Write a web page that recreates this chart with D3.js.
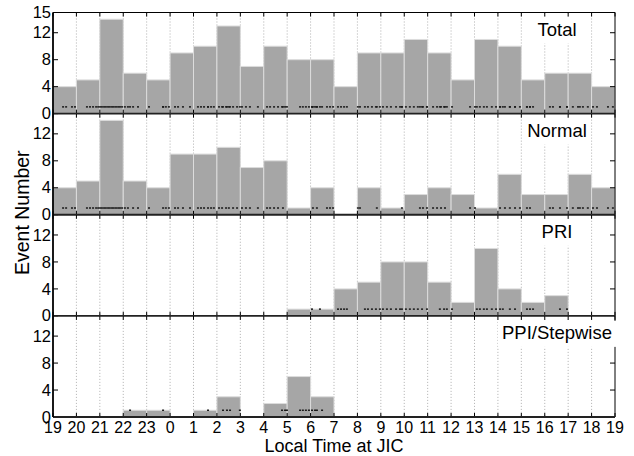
<!DOCTYPE html>
<html><head><meta charset="utf-8">
<script src="https://cdn.jsdelivr.net/npm/d3@7"></script>
<style>body{margin:0;background:#fff}svg{display:block}text{font-family:"Liberation Sans",Arial,Helvetica,sans-serif}</style>
</head><body>
<script>
// Hour labels (local time at JIC), bin edges 19:00 .. 19:00
const hourLabels = [19,20,21,22,23,0,1,2,3,4,5,6,7,8,9,10,11,12,13,14,15,16,17,18,19];
const panelNames = ["Total","Normal","PRI","PPI/Stepwise"];
// counts per hourly bin (bins 19-20 ... 18-19)
const totalCounts  = [4,5,14,6,5,9,10,13,7,10,8,8,4,9,9,11,9,5,11,10,5,6,6,4];
const normalCounts = [4,5,14,5,4,9,9,10,7,8,1,4,0,4,1,3,4,3,1,6,3,3,6,4];
const priCounts    = [0,0,0,0,0,0,0,0,0,0,1,1,4,5,8,8,5,2,10,4,2,3,0,0];
const ppiCounts    = [0,0,0,1,1,0,1,3,0,2,6,3,0,0,0,0,0,0,0,0,0,0,0,0];
// individual event times (hours since 19:00), marked at y = 1
const normalEvents = [0.43,0.56,0.81,0.94,1.45,1.58,1.71,1.84,1.93,2.01,2.09,2.18,2.26,2.35,2.43,2.52,2.60,2.69,2.78,2.86,2.95,
  3.07,3.20,3.42,3.63,4.10,4.70,4.82,4.95,5.21,5.34,5.55,5.85,6.19,6.32,6.45,6.62,6.75,6.87,7.09,7.22,7.39,7.51,7.69,7.86,
  8.07,8.24,8.41,8.75,9.14,9.27,9.44,9.61,9.82,11.10,11.27,11.70,11.83,11.96,13.02,13.11,13.83,14.90,15.67,15.80,15.97,
  16.23,16.40,16.57,16.74,17.81,18.02,19.09,19.30,19.51,19.73,19.94,20.24,20.37,21.22,21.35,21.65,21.95,22.20,22.42,22.50,
  22.63,22.84,23.06,23.23,23.70,23.91];
const priEvents = [11.06,11.40,12.17,12.30,12.43,12.55,13.32,13.45,13.62,13.79,13.96,14.09,14.26,14.43,14.65,14.82,14.90,15.07,
  15.24,15.41,15.58,15.76,15.97,16.52,16.70,16.82,17.04,18.10,18.23,18.40,18.53,18.74,18.92,19.09,19.21,19.51,19.73,20.24,20.37,
  20.50,21.65,21.95];
const ppiEvents = [3.29,4.70,6.62,7.26,7.43,7.56,7.98,9.78,9.91,9.99,10.55,10.67,10.80,10.93,11.06,11.19,11.27,11.49];
const totalEvents = normalEvents.concat(priEvents, ppiEvents);
const yTicks = [0,4,8,12];
const yTicksTop = [0,4,8,12,15];

const panels = [
  {name: panelNames[0], counts: totalCounts, events: totalEvents},
  {name: panelNames[1], counts: normalCounts, events: normalEvents},
  {name: panelNames[2], counts: priCounts, events: priEvents},
  {name: panelNames[3], counts: ppiCounts, events: ppiEvents}
];

const W = 634, H = 456;
const mL = 53, mR = 615, mT = 12.5, mB = 417;
const ph = (mB - mT) / panels.length;
const svg = d3.select("body").append("svg").attr("width", W).attr("height", H);
const x = d3.scaleLinear().domain([0, 24]).range([mL, mR]);
const hours = d3.range(25);

panels.forEach((p, i) => {
  const y0 = mT + i * ph, y1 = y0 + ph;
  const y = d3.scaleLinear().domain([0, 15]).range([y1, y0]);
  const g = svg.append("g");
  // grid
  g.selectAll("line.grid").data(hours.slice(1, 24)).join("line")
    .attr("x1", d => x(d)).attr("x2", d => x(d)).attr("y1", y0).attr("y2", y1)
    .attr("stroke", "#9a9a9a").attr("stroke-width", 0.8).attr("stroke-dasharray", "1,2");
  // bars
  g.selectAll("rect.bar").data(p.counts.map((c, k) => ({k, c})).filter(d => d.c > 0)).join("rect")
    .attr("x", d => x(d.k)).attr("width", d => x(d.k + 1) - x(d.k))
    .attr("y", d => y(d.c)).attr("height", d => y(0) - y(d.c))
    .attr("fill", "#a6a6a6").attr("stroke", "#dcdcdc").attr("stroke-width", 1);
  // event markers
  g.selectAll("rect.ev").data(p.events).join("rect")
    .attr("x", d => x(d) - 1).attr("y", y(1) - 0.75).attr("width", 2).attr("height", 1.5)
    .attr("fill", "#1a1a1a");
  // x ticks top & bottom
  g.selectAll("line.xtb").data(hours).join("line")
    .attr("x1", d => x(d)).attr("x2", d => x(d)).attr("y1", y1).attr("y2", y1 - 4)
    .attr("stroke", "#000").attr("stroke-width", 1);
  g.selectAll("line.xtt").data(hours).join("line")
    .attr("x1", d => x(d)).attr("x2", d => x(d)).attr("y1", y0).attr("y2", y0 + 4)
    .attr("stroke", "#000").attr("stroke-width", 1);
  // y ticks
  const yt = i === 0 ? yTicksTop : yTicks;
  g.selectAll("line.ytl").data(yt).join("line")
    .attr("x1", mL).attr("x2", mL + 5).attr("y1", d => y(d)).attr("y2", d => y(d))
    .attr("stroke", "#000");
  g.selectAll("line.ytr").data(yTicks.slice(1)).join("line")
    .attr("x1", mR).attr("x2", mR - 5).attr("y1", d => y(d)).attr("y2", d => y(d))
    .attr("stroke", "#000");
  g.selectAll("text.yl").data(yt).join("text")
    .attr("x", mL - 2).attr("y", d => y(d)).attr("dy", "0.34em")
    .attr("text-anchor", "end")
    .attr("font-size", 16.5).text(d => d);
  // frame
  g.append("line").attr("x1", mR).attr("x2", mR).attr("y1", y0).attr("y2", y1).attr("stroke", "#000").attr("stroke-width", 1);
  g.append("line").attr("x1", mL).attr("x2", mR).attr("y1", y1).attr("y2", y1).attr("stroke", "#222").attr("stroke-width", 1.8);
  if (i === 0) g.append("line").attr("x1", mL).attr("x2", mR).attr("y1", y0).attr("y2", y0).attr("stroke", "#000").attr("stroke-width", 1.2);
  // label with white background (drawn over grid and right frame)
  const lg = g.append("g");
  const t = lg.append("text").attr("x", 557).attr("y", y0 + 23).attr("text-anchor", "middle")
    .attr("font-size", 18.5).attr("fill", "#000").text(p.name);
  const bb = t.node().getBBox();
  lg.insert("rect", "text").attr("x", bb.x - 4).attr("y", bb.y - 1).attr("width", bb.width + 8).attr("height", bb.height + 5)
    .attr("fill", "#fff");
});
// left axis line
svg.append("line").attr("x1", mL).attr("x2", mL).attr("y1", mT).attr("y2", mB).attr("stroke", "#000").attr("stroke-width", 1.8);

// x tick labels
svg.selectAll("text.xl").data(hours).join("text")
  .attr("x", d => x(d)).attr("y", 432.5).attr("text-anchor", "middle").attr("font-size", 16)
  .text(d => hourLabels[d]);
svg.append("text").attr("x", (mL + mR) / 2).attr("y", 451.5).attr("text-anchor", "middle")
  .attr("font-size", 18).text("Local Time at JIC");
svg.append("text").attr("transform", `translate(29,${(mT + mB) / 2 - 2}) rotate(-90)`)
  .attr("text-anchor", "middle").attr("font-size", 19.5).text("Event Number");
</script>
</body></html>
